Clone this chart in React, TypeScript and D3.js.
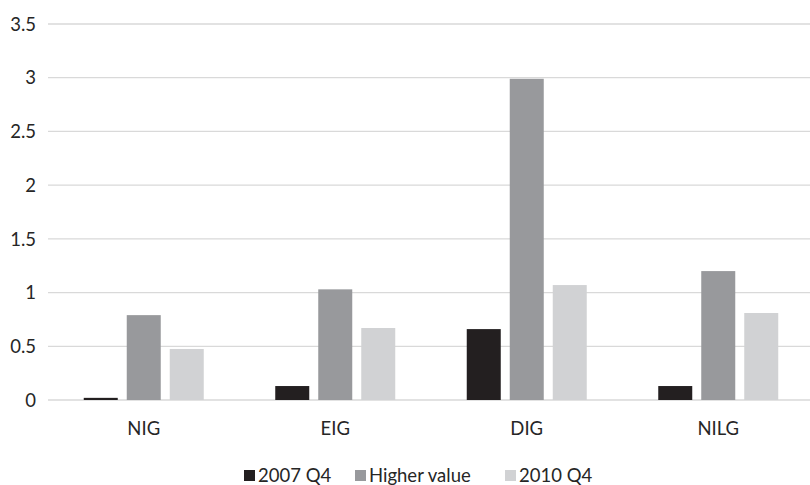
import React from "react";
import * as d3 from "d3";

const categories = ["NIG", "EIG", "DIG", "NILG"];
const seriesNames = ["2007 Q4", "Higher value", "2010 Q4"];
const s2007 = [0.02, 0.13, 0.66, 0.13];
const sHigher = [0.79, 1.03, 2.99, 1.2];
const s2010 = [0.475, 0.67, 1.07, 0.81];
const yTicks = [0, 0.5, 1, 1.5, 2, 2.5, 3, 3.5];
const colors = ["#231f20", "#98999c", "#d1d2d4"];

const W = 810;
const H = 485;
const FONT = "Lato, 'Open Sans', sans-serif";
const FS = 18.5;

export default function App() {
  const series = [s2007, sHigher, s2010];
  const x = d3.scaleBand<string>().domain(categories).range([48, 814]);
  const y = d3.scaleLinear().domain([0, 3.5]).range([400, 24]);
  const barW = 34;
  const gap = 9;
  const bars: JSX.Element[] = [];
  categories.forEach((c, i) => {
    const cx = (x(c) as number) + x.bandwidth() / 2;
    series.forEach((s, j) => {
      const bx = cx - barW / 2 + (j - 1) * (barW + gap);
      bars.push(
        <rect
          key={`${i}-${j}`}
          x={bx}
          y={y(s[i])}
          width={barW}
          height={y(0) - y(s[i])}
          fill={colors[j]}
        />
      );
    });
  });
  const legendX = [244, 355, 505];
  return (
    <svg
      width={W}
      height={H}
      style={{ position: "absolute", left: 0, top: 0, background: "#fff" }}
      fontFamily={FONT}
    >
      {yTicks.map((t) => (
        <g key={t}>
          <line x1={48} x2={W} y1={y(t)} y2={y(t)} stroke="#d9d9d9" strokeWidth={1.3} />
          <text x={36} y={y(t)} dy="0.36em" textAnchor="end" fontSize={FS} fill="#262626">
            {t}
          </text>
        </g>
      ))}
      {bars}
      {categories.map((c) => (
        <text
          key={c}
          x={(x(c) as number) + x.bandwidth() / 2}
          y={428}
          dy="0.36em"
          textAnchor="middle"
          fontSize={FS}
          fill="#262626"
        >
          {c}
        </text>
      ))}
      {seriesNames.map((n, j) => (
        <g key={n}>
          <rect x={legendX[j]} y={470} width={11} height={11} fill={colors[j]} />
          <text x={legendX[j] + 14} y={475.5} dy="0.36em" fontSize={FS} fill="#262626">
            {n}
          </text>
        </g>
      ))}
    </svg>
  );
}
